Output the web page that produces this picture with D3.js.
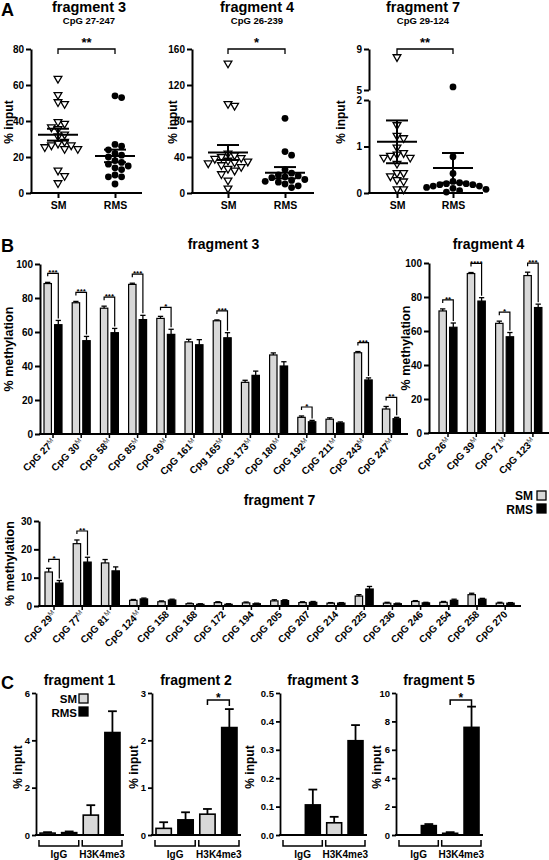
<!DOCTYPE html>
<html><head><meta charset="utf-8">
<script src="https://cdn.jsdelivr.net/npm/d3@7"></script>
<style>
body{margin:0;background:#fff}
svg text{font-family:"Liberation Sans",Arial,Helvetica,sans-serif;font-weight:bold;fill:#000}
</style></head><body>
<script>
// ================= DATA =================
const groupsA = ["SM", "RMS"];
// Panel A – % input, individual samples
const a3SM  = [64, 55, 51, 50, 40, 39, 37, 36, 33, 32, 29, 28, 27, 27, 26, 25, 25, 13, 10, 6];
const a3RMS = [54, 53, 27, 26, 24, 22, 21, 20, 18, 17, 16, 15, 14, 13, 10, 9, 9, 5];
const a3Mean = [32.4, 20.6], a3Sem = [3.3, 3.5];
const a4SM  = [145, 100, 98, 45, 43, 41, 40, 39, 37, 36, 35, 34, 32, 30, 28, 26, 22, 15, 6];
const a4RMS = [83, 46, 42, 26, 22, 20, 19, 18, 17, 15, 14, 13, 12, 10, 8, 6];
const a4Mean = [45, 22.5], a4Sem = [8.3, 6.3];
const a7SM  = [8.3, 1.48, 1.25, 1.2, 1.0, 0.88, 0.85, 0.82, 0.78, 0.78, 0.65, 0.45, 0.45, 0.38, 0.3, 0.27, 0.1, 0.1];
const a7RMS = [5.3, 0.78, 0.42, 0.25, 0.22, 0.2, 0.2, 0.18, 0.18, 0.15, 0.15, 0.12, 0.1, 0.08, 0.05, 0.02];
const a7Mean = [1.1, 0.54], a7Sem = [0.46, 0.32];
const a3Ticks = [0, 20, 40, 60, 80], a4Ticks = [0, 40, 80, 120, 160];
const a7TicksLow = [0, 1, 2], a7TicksHigh = [5, 9];

// Panel B – % methylation
const b3Cats = ["CpG 27", "CpG 30", "CpG 58", "CpG 85", "CpG 99", "CpG 161", "Cpg 165", "CpG 173", "CpG 180", "CpG 192", "CpG 211", "CpG 243", "CpG 247"];
const b3M    = [1,1,1,1,1,1,1,1,1,1,1,1,1];
const b3SM   = [88.5, 77.2, 74, 88, 68, 54.2, 66.6, 30.4, 46.5, 9.8, 8.7, 47.8, 14.7];
const b3RMS  = [64.3, 54.9, 59.6, 67.3, 58.6, 52.5, 56.6, 34.5, 40, 7.2, 6.5, 31.8, 9];
const b3SMe  = [0.7, 0.8, 1.2, 0.7, 1.2, 1.5, 0.5, 1.2, 1.2, 0.8, 0.8, 0.7, 1.5];
const b3RMSe = [2.5, 2.5, 2.5, 2.5, 3, 3, 3, 2.5, 2.5, 0.8, 0.6, 1.2, 0.8];
const b3Sig  = ["***", "***", "***", "***", "*", "", "***", "", "", "*", "", "***", "**"];

const b4Cats = ["CpG 26", "CpG 39", "CpG 71", "CpG 123"];
const b4M    = [1,1,1,1];
const b4SM   = [71.8, 93.8, 64.5, 92.6];
const b4RMS  = [62.2, 77.6, 56.6, 73.8];
const b4SMe  = [1.2, 0.6, 1.3, 2];
const b4RMSe = [2.5, 2, 2.5, 2];
const b4Sig  = ["**", "****", "*", "***"];

const b7Cats = ["CpG 29", "CpG 77", "CpG 81", "CpG 124", "CpG 158", "CpG 168", "CpG 172", "CpG 194", "CpG 205", "CpG 207", "CpG 214", "CpG 225", "CpG 236", "CpG 246", "CpG 254", "CpG 258", "CpG 270"];
const b7M    = [1,1,1,1,0,0,0,0,0,0,0,0,0,0,0,0,0];
const b7SM   = [12, 22, 15.2, 2, 1.5, 0.8, 1.2, 1.1, 1.8, 1.2, 1.0, 3.5, 1.0, 1.6, 1.3, 4.0, 1.0];
const b7RMS  = [8.1, 15.5, 12.4, 2.5, 2.1, 0.6, 0.6, 0.8, 1.9, 1.3, 1.0, 6.0, 0.8, 1.1, 2.0, 2.4, 1.0];
const b7SMe  = [1.3, 1.3, 1.2, 0.3, 0.3, 0.2, 0.3, 0.3, 0.4, 0.3, 0.2, 0.5, 0.3, 0.3, 0.3, 0.5, 0.3];
const b7RMSe = [0.9, 1.7, 1.4, 0.3, 0.3, 0.2, 0.2, 0.2, 0.3, 0.3, 0.2, 0.9, 0.2, 0.2, 0.4, 0.3, 0.2];
const b7Sig  = ["*", "**", "", "", "", "", "", "", "", "", "", "", "", "", "", "", ""];
const bTicks100 = [0, 20, 40, 60, 80, 100], bTicks30 = [0, 10, 20, 30];

// Panel C – ChIP % input
const cGroups = ["IgG", "H3K4me3"];
const c1SM = [0.08, 0.84], c1RMS = [0.1, 4.33], c1SMe = [0.04, 0.42], c1RMSe = [0.05, 0.9];
const c2SM = [0.14, 0.44], c2RMS = [0.32, 2.27], c2SMe = [0.13, 0.11], c2RMSe = [0.16, 0.39];
const c3SM = [0, 0.043], c3RMS = [0.106, 0.332], c3SMe = [0, 0.021], c3RMSe = [0.054, 0.055];
const c5SM = [0, 0.12], c5RMS = [0.66, 7.58], c5SMe = [0, 0.08], c5RMSe = [0.11, 1.46];
const c1Sig = ["", ""], c2Sig = ["", "*"], c3Sig = ["", ""], c5Sig = ["", "*"];
const c1Ticks = [0, 2, 4, 6], c2Ticks = [0, 1, 2, 3], c3Ticks = [0, 0.1, 0.2, 0.3, 0.4, 0.5], c5Ticks = [0, 2, 4, 6, 8, 10];

// ================= DRAWING =================
const FONT = '"Liberation Sans", Arial, Helvetica, sans-serif';
const GREY = "#d8d8d8";
const svg = d3.select("body").append("svg").attr("width", 549).attr("height", 860);

function styleAxis(g, fs, sw) {
  g.attr("font-size", fs).attr("font-family", FONT).attr("font-weight", "bold");
  g.selectAll("path.domain").attr("stroke-width", sw).attr("stroke", "#000");
  g.selectAll(".tick line").attr("stroke-width", sw).attr("stroke", "#000");
  g.selectAll(".tick text").attr("fill", "#000");
}
function hline(g, x1, x2, y, sw) {
  g.append("line").attr("x1", x1).attr("x2", x2).attr("y1", y).attr("y2", y)
    .attr("stroke", "#000").attr("stroke-width", sw).attr("stroke-linecap", "square");
}
function vlabel(g, text, x, y, fs) {
  g.append("text").attr("transform", `translate(${x},${y}) rotate(-90)`)
    .attr("text-anchor", "middle").attr("font-size", fs).text(text);
}
function text(g, s, x, y, fs, anchor) {
  return g.append("text").attr("x", x).attr("y", y).attr("font-size", fs)
    .attr("text-anchor", anchor || "middle").text(s);
}
function swarm(values, y, cx, d) {
  const pts = values.map(v => ({ v, py: y(v) })).sort((a, b) => a.py - b.py);
  const placed = [];
  pts.forEach(p => {
    for (let k = 0; k < 60; k++) {
      const off = k === 0 ? 0 : (k % 2 ? 1 : -1) * Math.ceil(k / 2) * d / 2;
      const px = cx + off;
      if (placed.every(q => Math.hypot(q.px - px, q.py - p.py) >= d)) { p.px = px; placed.push(p); break; }
    }
  });
  return placed;
}

// ---------- Panel A ----------
text(svg, "A", 1, 16, 18, "start");
function drawDot(cfg) {
  const g = svg.append("g");
  const x = d3.scalePoint().domain(groupsA).range([cfg.xs, cfg.xr]);
  const y = cfg.y;
  cfg.axes.forEach(a => {
    const ax = g.append("g").attr("transform", `translate(${cfg.L},0)`)
      .call(d3.axisLeft(a.scale).tickValues(a.ticks).tickSize(5).tickSizeOuter(0).tickPadding(2).tickFormat(d3.format("d")));
    styleAxis(ax, 10, 2);
  });
  hline(g, cfg.L, cfg.R, cfg.y0, 2);
  const bx = g.append("g").attr("transform", `translate(0,${cfg.y0})`)
    .call(d3.axisBottom(x).tickSize(5).tickPadding(4));
  bx.select("path.domain").remove();
  styleAxis(bx, 10.5, 2);
  // points
  const sm = swarm(cfg.sm, y, x("SM"), 6.6);
  g.selectAll(null).data(sm).join("path")
    .attr("d", d3.symbol(d3.symbolTriangle, 26))
    .attr("transform", d => `translate(${d.px},${d.py + 0.8}) rotate(180)`)
    .attr("fill", "#fff").attr("stroke", "#000").attr("stroke-width", 1.3);
  const rm = swarm(cfg.rms, y, x("RMS"), 6.6);
  g.selectAll(null).data(rm).join("circle")
    .attr("cx", d => d.px).attr("cy", d => d.py).attr("r", 3.4).attr("fill", "#000");
  // mean ± SEM
  groupsA.forEach((k, i) => {
    const cx = x(k), m = cfg.mean[i], s = cfg.sem[i];
    hline(g, cx - 19, cx + 19, y(m), 2);
    g.append("line").attr("x1", cx).attr("x2", cx).attr("y1", y(m - s)).attr("y2", y(m + s))
      .attr("stroke", "#000").attr("stroke-width", 2);
    hline(g, cx - 10, cx + 10, y(m - s), 2);
    hline(g, cx - 10, cx + 10, y(m + s), 2);
  });
  // significance
  const by = cfg.y1;
  g.append("path").attr("d", `M${x("SM")},${by + 5}V${by}H${x("RMS")}V${by + 5}`)
    .attr("fill", "none").attr("stroke", "#000").attr("stroke-width", 1.3);
  text(g, cfg.sig, (x("SM") + x("RMS")) / 2, by - 2, 13);
  // titles
  text(g, cfg.title, cfg.tx, 11.5, 14.5);
  text(g, cfg.sub, cfg.tx, 24, 9.5);
  vlabel(g, "% input", cfg.labX, 122, 12);
}
{
  const y3 = d3.scaleLinear().domain([0, 80]).range([193, 49]);
  drawDot({ L: 31, R: 141, xs: 58, xr: 115, y: y3, y0: 193, y1: 49, axes: [{ scale: y3, ticks: a3Ticks }],
    sm: a3SM, rms: a3RMS, mean: a3Mean, sem: a3Sem, sig: "**", title: "fragment 3", sub: "CpG 27-247", tx: 89, labX: 13 });
  const y4 = d3.scaleLinear().domain([0, 160]).range([193, 49]);
  drawDot({ L: 192, R: 313, xs: 228, xr: 285, y: y4, y0: 193, y1: 49, axes: [{ scale: y4, ticks: a4Ticks }],
    sm: a4SM, rms: a4RMS, mean: a4Mean, sem: a4Sem, sig: "*", title: "fragment 4", sub: "CpG 26-239", tx: 257, labX: 176.5 });
  const yLo = d3.scaleLinear().domain([0, 2]).range([193, 100]);
  const yHi = d3.scaleLinear().domain([5, 9]).range([90, 49]);
  const y7 = v => (v > 3 ? yHi(v) : yLo(v));
  drawDot({ L: 369, R: 482, xs: 397, xr: 453, y: y7, y0: 193, y1: 49, axes: [{ scale: yLo, ticks: a7TicksLow }, { scale: yHi, ticks: a7TicksHigh }],
    sm: a7SM, rms: a7RMS, mean: a7Mean, sem: a7Sem, sig: "**", title: "fragment 7", sub: "CpG 29-124", tx: 423, labX: 344.5 });
}

// ---------- Panel B ----------
text(svg, "B", 1, 252, 18, "start");
function drawBars(cfg) {
  const g = svg.append("g");
  const n = cfg.cats.length;
  const x = d3.scaleBand().domain(cfg.cats).range([cfg.bandStart, cfg.bandStart + cfg.step * n]);
  const xs = d3.scaleBand().domain(groupsA).range([4, 22]).paddingInner(0.3);
  const bw = xs.bandwidth();
  const y = d3.scaleLinear().domain([0, cfg.max]).range([cfg.y0, cfg.y1]);
  const ax = g.append("g").attr("transform", `translate(${cfg.L},0)`)
    .call(d3.axisLeft(y).tickValues(cfg.ticks).tickSize(5).tickSizeOuter(0).tickPadding(2));
  styleAxis(ax, 10, 2);
  const rows = cfg.cats.map((c, i) => ({ c, i, v: { SM: cfg.sm[i], RMS: cfg.rms[i] }, e: { SM: cfg.smE[i], RMS: cfg.rmsE[i] }, sig: cfg.sig[i], m: cfg.mf[i] }));
  rows.forEach(r => {
    groupsA.forEach(k => {
      const bx = x(r.c) + xs(k), v = r.v[k], e = r.e[k];
      g.append("rect").attr("x", bx).attr("y", y(v)).attr("width", bw).attr("height", y(0) - y(v))
        .attr("fill", k === "SM" ? GREY : "#000").attr("stroke", "#000").attr("stroke-width", 1.2);
      const cx = bx + bw / 2;
      g.append("line").attr("x1", cx).attr("x2", cx).attr("y1", y(v)).attr("y2", y(v + e)).attr("stroke", "#000").attr("stroke-width", 1.3);
      hline(g, cx - 2, cx + 2, y(v + e), 1.3);
    });
    // tick + label
    const tx = x(r.c) + 13;
    g.append("line").attr("x1", tx).attr("x2", tx).attr("y1", cfg.y0).attr("y2", cfg.y0 + 4).attr("stroke", "#000").attr("stroke-width", 1.5);
    const t = g.append("text").attr("transform", `translate(${tx + 3},${cfg.y0 + 9}) rotate(-45)`)
      .attr("text-anchor", "end").attr("font-size", 10);
    t.append("tspan").text(r.c);
    if (r.m) t.append("tspan").attr("font-size", 7).attr("font-weight", "normal").attr("fill", "#444").attr("dy", -3.5).text("M");
    // significance
    if (r.sig) {
      const sx = x(r.c) + xs("SM") + bw / 2, rx = x(r.c) + xs("RMS") + bw / 2;
      const top = y(r.v.SM + r.e.SM);
      const by = top - 9;
      const ry = y(r.v.RMS + r.e.RMS) - 2;
      g.append("path").attr("d", `M${sx},${by + 3}V${by}H${rx}V${ry}`)
        .attr("fill", "none").attr("stroke", "#000").attr("stroke-width", 1.2);
      text(g, r.sig, (sx + rx) / 2, by + 2, 8);
    }
  });
  hline(g, cfg.L, cfg.R, cfg.y0, 2);
  text(g, cfg.title, (cfg.L + cfg.R) / 2, cfg.ty, 14);
  vlabel(g, "% methylation", cfg.labX, (cfg.y0 + cfg.y1) / 2, 12.5);
}
drawBars({ cats: b3Cats, mf: b3M, sm: b3SM, rms: b3RMS, smE: b3SMe, rmsE: b3RMSe, sig: b3Sig,
  L: 40, R: 407, bandStart: 40, step: 28.2, y0: 434, y1: 264, max: 100, ticks: bTicks100, title: "fragment 3", ty: 249, labX: 13 });
drawBars({ cats: b4Cats, mf: b4M, sm: b4SM, rms: b4RMS, smE: b4SMe, rmsE: b4RMSe, sig: b4Sig,
  L: 429, R: 548, bandStart: 435, step: 28.3, y0: 433, y1: 263, max: 100, ticks: bTicks100, title: "fragment 4", ty: 249, labX: 410 });
drawBars({ cats: b7Cats, mf: b7M, sm: b7SM, rms: b7RMS, smE: b7SMe, rmsE: b7RMSe, sig: b7Sig,
  L: 39, R: 520, bandStart: 41, step: 28.2, y0: 606, y1: 521, max: 30, ticks: bTicks30, title: "fragment 7", ty: 505, labX: 14 });
// legend B
{
  const g = svg.append("g");
  text(g, "SM", 533, 500, 12, "end");
  text(g, "RMS", 533, 513.5, 12, "end");
  g.append("rect").attr("x", 537).attr("y", 491).attr("width", 9).attr("height", 9).attr("fill", GREY).attr("stroke", "#000").attr("stroke-width", 1.3);
  g.append("rect").attr("x", 537).attr("y", 504).attr("width", 9).attr("height", 9).attr("fill", "#000").attr("stroke", "#000").attr("stroke-width", 1.3);
}

// ---------- Panel C ----------
text(svg, "C", 1, 689, 18, "start");
function drawC(cfg) {
  const g = svg.append("g");
  const y = d3.scaleLinear().domain([0, cfg.max]).range([835, 693]);
  const keys = [];
  cGroups.forEach(gr => groupsA.forEach(k => keys.push(gr + "|" + k)));
  const x = d3.scaleBand().domain(keys).range([cfg.L + 4, cfg.R - 3]).paddingInner(0.3);
  const bw = x.bandwidth();
  const ax = g.append("g").attr("transform", `translate(${cfg.L},0)`)
    .call(d3.axisLeft(y).tickValues(cfg.ticks).tickSize(4).tickSizeOuter(0).tickPadding(2).tickFormat(cfg.fmt || d3.format("d")));
  styleAxis(ax, 9.5, 1.8);
  cGroups.forEach((gr, i) => {
    groupsA.forEach(k => {
      const v = (k === "SM" ? cfg.sm : cfg.rms)[i], e = (k === "SM" ? cfg.smE : cfg.rmsE)[i];
      const bx = x(gr + "|" + k), cx = bx + bw / 2;
      if (e > 0) {
        g.append("line").attr("x1", cx).attr("x2", cx).attr("y1", y(v)).attr("y2", y(v + e)).attr("stroke", "#000").attr("stroke-width", 1.8);
        hline(g, cx - 3.5, cx + 3.5, y(v + e), 1.8);
      }
      if (v > 0) g.append("rect").attr("x", bx).attr("y", y(v)).attr("width", bw).attr("height", y(0) - y(v))
        .attr("fill", k === "SM" ? GREY : "#000").attr("stroke", "#000").attr("stroke-width", 1.6);
    });
    // group bracket
    const x1 = x(gr + "|SM") - 1, x2 = x(gr + "|RMS") + bw + 2;
    g.append("path").attr("d", `M${x1},840V846H${x2}V840`).attr("fill", "none").attr("stroke", "#000").attr("stroke-width", 1.5);
    text(g, gr, (x1 + x2) / 2, 858, 10);
    if (cfg.sig[i]) {
      const sx = x(gr + "|SM") + bw / 2, rx = x(gr + "|RMS") + bw / 2;
      g.append("path").attr("d", `M${sx},705V700H${rx}V706`).attr("fill", "none").attr("stroke", "#000").attr("stroke-width", 1.5);
      text(g, cfg.sig[i], (sx + rx) / 2, 701.5, 12);
    }
  });
  hline(g, cfg.L, cfg.R, 835, 2);
  text(g, cfg.title, (cfg.L + cfg.R) / 2, 685, 14);
  vlabel(g, "% input", cfg.labX, 767, 12);
}
drawC({ L: 36, R: 123, max: 6, ticks: c1Ticks, sm: c1SM, rms: c1RMS, smE: c1SMe, rmsE: c1RMSe, sig: c1Sig, title: "fragment 1", labX: 22 });
drawC({ L: 152, R: 240, max: 3, ticks: c2Ticks, sm: c2SM, rms: c2RMS, smE: c2SMe, rmsE: c2RMSe, sig: c2Sig, title: "fragment 2", labX: 137.5 });
drawC({ L: 280, R: 366, max: 0.5, ticks: c3Ticks, fmt: d3.format(".1f"), sm: c3SM, rms: c3RMS, smE: c3SMe, rmsE: c3RMSe, sig: c3Sig, title: "fragment 3", labX: 253.5 });
drawC({ L: 396, R: 482, max: 10, ticks: c5Ticks, sm: c5SM, rms: c5RMS, smE: c5SMe, rmsE: c5RMSe, sig: c5Sig, title: "fragment 5", labX: 380.5 });
// legend C
{
  const g = svg.append("g");
  text(g, "SM", 77, 703, 11.5, "end");
  text(g, "RMS", 77, 716.5, 11.5, "end");
  g.append("rect").attr("x", 79).attr("y", 694).attr("width", 9).attr("height", 9).attr("fill", GREY).attr("stroke", "#000").attr("stroke-width", 1.3);
  g.append("rect").attr("x", 79).attr("y", 707).attr("width", 9).attr("height", 9).attr("fill", "#000").attr("stroke", "#000").attr("stroke-width", 1.3);
}
</script>
</body></html>
